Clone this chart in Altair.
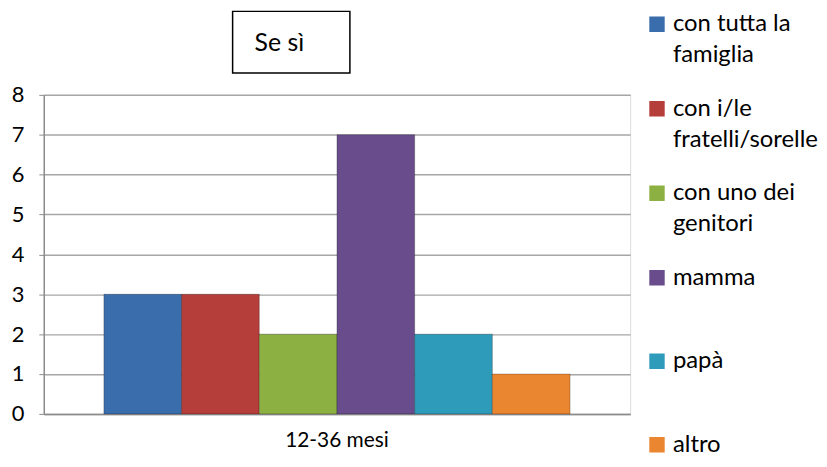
import json
import altair as alt
import pandas as pd

categories = ["12-36 mesi"]
series = ["con tutta la famiglia", "con i/le fratelli/sorelle", "con uno dei genitori",
          "mamma", "papà", "altro"]
values = [3, 3, 2, 7, 2, 1]
colors = ["#3A6DAB", "#B53D3A", "#8DB043", "#684C8C", "#2F9BBA", "#EB8630"]
legend_lines = [["con tutta la", "famiglia"], ["con i/le", "fratelli/sorelle"],
                ["con uno dei", "genitori"], ["mamma"], ["papà"], ["altro"]]
y_ticks = [0, 1, 2, 3, 4, 5, 6, 7, 8]
title_text = "Se sì"

df = pd.DataFrame({
    "categoria": [categories[0]] * len(series),
    "serie": series,
    "valore": values,
})

label_map = "({" + ",".join(f"{json.dumps(s)}: {json.dumps(l)}" for s, l in zip(series, legend_lines)) + "})[datum.label]"

FONT = "Lato"

bars = alt.Chart(df).mark_bar(stroke="#000000", strokeOpacity=0.25, strokeWidth=1).encode(
    x=alt.X("categoria:N", title=None,
            scale=alt.Scale(paddingInner=0, paddingOuter=0.129),
            axis=alt.Axis(labelAngle=0, ticks=False, labelPadding=16, labelFontSize=21,
                          labelFont=FONT, labelColor="#000", domainColor="#8C8C8C",
                          domainWidth=1.5)),
    xOffset=alt.XOffset("serie:N", sort=series, scale=alt.Scale(paddingInner=0, paddingOuter=0)),
    y=alt.Y("valore:Q", title=None,
            scale=alt.Scale(domain=[0, 8], nice=False),
            axis=alt.Axis(values=y_ticks, tickSize=5, tickColor="#8C8C8C", labelPadding=15,
                          labelFontSize=22, labelFont=FONT, labelColor="#000",
                          domainColor="#8C8C8C", domainWidth=1.5, gridColor="#A6A6A6",
                          gridWidth=1.5)),
    color=alt.Color("serie:N", sort=series,
                    scale=alt.Scale(domain=series, range=colors),
                    legend=alt.Legend(title=None, orient="none", legendX=605, legendY=-113,
                                      symbolType="square", symbolSize=240, symbolStrokeWidth=0,
                                      labelFontSize=24, labelFont=FONT, labelColor="#000",
                                      labelLimit=300, labelOffset=4, labelBaseline="middle",
                                      labelExpr=label_map, clipHeight=84, rowPadding=0,
                                      padding=0)),
)

box_df = pd.DataFrame({"t": [title_text]})
box = alt.Chart(box_df).mark_rect(fill="white", stroke="#000", strokeWidth=1.5).encode(
    x=alt.value(190), x2=alt.value(308), y=alt.value(-84), y2=alt.value(-22)
)
title = alt.Chart(box_df).mark_text(fontSize=25, font=FONT, color="#000").encode(
    x=alt.value(237), y=alt.value(-52), text="t:N"
)

chart = alt.layer(bars, box, title).properties(
    width=590, height=321,
    autosize=alt.AutoSizeParams(type="none"),
    padding={"left": 36, "top": 86, "right": 190, "bottom": 45},
).configure_view(stroke=None).configure(style={"guide-label": {"lineHeight": 31}})

chart.save("out.html", embed_options={"renderer": "svg", "actions": False})
